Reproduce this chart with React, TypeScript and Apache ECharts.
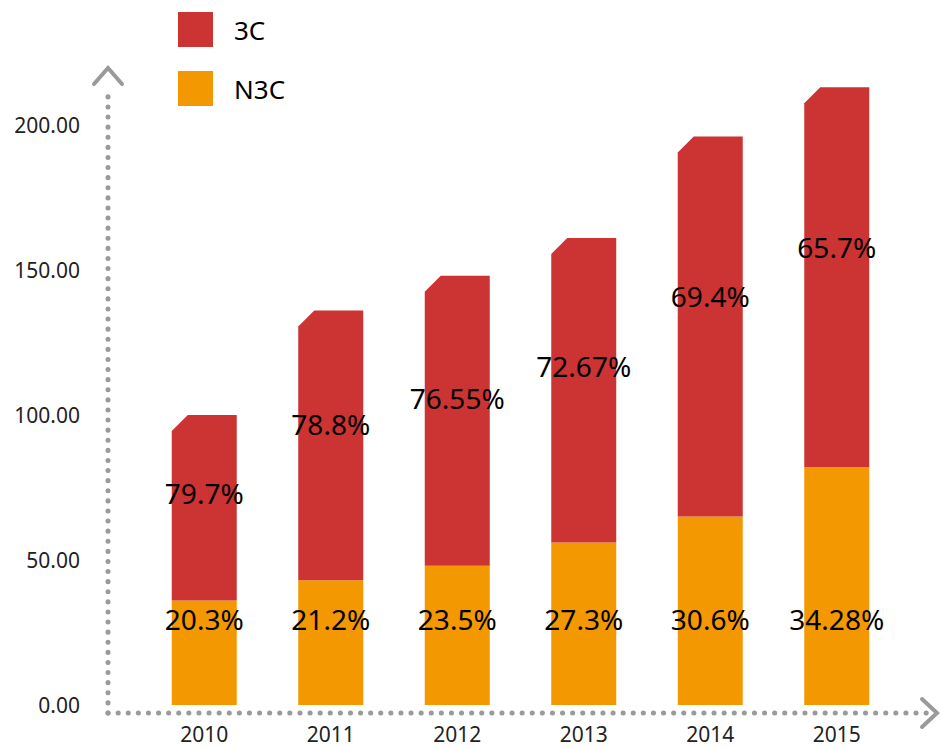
import React, { useEffect, useRef } from 'react';
import * as echarts from 'echarts';

const years = ['2010', '2011', '2012', '2013', '2014', '2015'];
const n3cValues = [36, 43, 48, 56, 65, 82];
const c3Values = [64, 93, 100, 105, 131, 131];
const c3Labels = ['79.7%', '78.8%', '76.55%', '72.67%', '69.4%', '65.7%'];
const n3cLabels = ['20.3%', '21.2%', '23.5%', '27.3%', '30.6%', '34.28%'];
const yTicks = [0, 50, 100, 150, 200];

const RED = '#CC3333';
const ORANGE = '#F39800';
const GRAY = '#9a9a9a';
const FONT = '"Noto Sans", sans-serif';
const BAR_W = 65;
const CHAMFER = 16;

const GRID_LEFT = 141;
const GRID_RIGHT = 40;
const GRID_TOP = 67;
const GRID_BOTTOM = 44;
const AXIS_X = 108;
const AXIS_Y = 713;

export default function App() {
  const ref = useRef<HTMLDivElement>(null);
  useEffect(() => {
    document.body.style.margin = '0';
    const chart = echarts.init(ref.current!, null, { renderer: 'svg' });
    const dotStyle = { stroke: GRAY, lineWidth: 5, lineDash: [0.1, 10], lineCap: 'round' };
    const arrowStyle = { stroke: GRAY, lineWidth: 4, fill: 'none', lineCap: 'round', lineJoin: 'miter' };
    chart.setOption({
      animation: false,
      textStyle: { fontFamily: FONT },
      legend: {
        orient: 'vertical',
        left: 178,
        top: 12,
        padding: 0,
        itemWidth: 35,
        itemHeight: 35,
        itemGap: 24,
        icon: 'rect',
        data: ['3C', 'N3C'],
        textStyle: { fontSize: 26, color: '#000', fontFamily: FONT, padding: [0, 0, 0, 16] },
      },
      grid: { left: GRID_LEFT, right: GRID_RIGHT, top: GRID_TOP, bottom: GRID_BOTTOM },
      xAxis: {
        type: 'category',
        data: years,
        offset: 8,
        axisLine: { show: false },
        axisTick: { show: false },
        axisLabel: { fontSize: 21, color: '#222', margin: 10, fontFamily: FONT },
      },
      yAxis: {
        type: 'value',
        min: 0,
        max: 220,
        interval: 50,
        offset: 33,
        splitLine: { show: false },
        axisLine: { show: false },
        axisTick: { show: false },
        axisLabel: {
          fontSize: 21,
          color: '#222',
          margin: 28,
          fontFamily: FONT,
          formatter: (v: number) => (yTicks.indexOf(v) >= 0 ? v.toFixed(2) : ''),
        },
      },
      graphic: [
        { type: 'line', shape: { x1: AXIS_X, y1: AXIS_Y, x2: AXIS_X, y2: 88 }, style: dotStyle },
        { type: 'line', shape: { x1: AXIS_X, y1: AXIS_Y, x2: 928, y2: AXIS_Y }, style: dotStyle },
        { type: 'polyline', shape: { points: [[94, 84], [108, 68], [122, 84]] }, style: arrowStyle },
        { type: 'polyline', shape: { points: [[922, 699], [937, 713], [922, 727]] }, style: arrowStyle },
      ],
      series: [
        {
          name: 'N3C',
          type: 'bar',
          barWidth: BAR_W,
          data: n3cValues,
          itemStyle: { color: ORANGE },
          label: {
            show: true,
            position: 'insideBottom',
            distance: 72,
            fontSize: 28,
            color: '#000',
            fontFamily: FONT,
            formatter: (p: any) => n3cLabels[p.dataIndex],
          },
          z: 2,
        },
        {
          name: '3C',
          type: 'custom',
          itemStyle: { color: RED },
          data: years.map((_, i) => [i, n3cValues[i], c3Values[i]]),
          encode: { x: 0, y: 2 },
          renderItem: (params: any, api: any) => {
            const i = api.value(0);
            const base = api.value(1);
            const v = api.value(2);
            const b = api.coord([i, base]);
            const t = api.coord([i, base + v]);
            const h = BAR_W / 2;
            const x = b[0];
            return {
              type: 'group',
              children: [
                {
                  type: 'polygon',
                  shape: {
                    points: [
                      [x - h, b[1]],
                      [x - h, t[1] + CHAMFER],
                      [x - h + CHAMFER, t[1]],
                      [x + h, t[1]],
                      [x + h, b[1]],
                    ],
                  },
                  style: { fill: RED },
                },
                {
                  type: 'text',
                  x: x,
                  y: t[1] + 0.42 * (b[1] - t[1]),
                  style: {
                    text: c3Labels[params.dataIndex],
                    fontSize: 28,
                    fontFamily: FONT,
                    fill: '#000',
                    align: 'center',
                    verticalAlign: 'middle',
                  },
                },
              ],
            };
          },
          z: 3,
        },
      ],
    });
    return () => chart.dispose();
  }, []);
  return <div ref={ref} style={{ width: 940, height: 749 }} />;
}
